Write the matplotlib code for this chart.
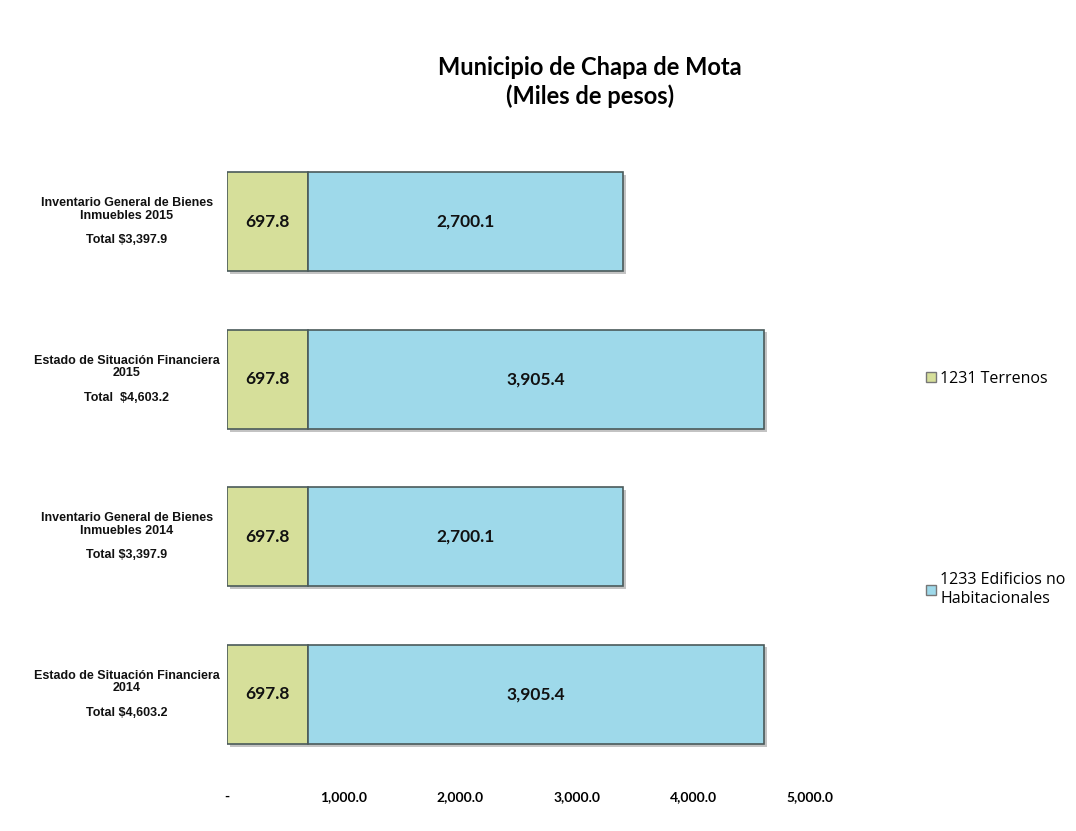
import matplotlib
matplotlib.use("Agg")
import matplotlib.pyplot as plt
import matplotlib.patheffects as pe
import matplotlib.transforms as mtransforms
from matplotlib.patches import Patch

# ---- data ----
categories = [
    "Estado de Situación Financiera\n2014\n\nTotal $4,603.2",
    "Inventario General de Bienes\nInmuebles 2014\n\nTotal $3,397.9",
    "Estado de Situación Financiera\n2015\n\nTotal  $4,603.2",
    "Inventario General de Bienes\nInmuebles 2015\n\nTotal $3,397.9",
]
terrenos = [697.8, 697.8, 697.8, 697.8]
edificios = [3905.4, 2700.1, 3905.4, 2700.1]
series_names = ["1231 Terrenos", "1233 Edificios no\nHabitacionales"]
xticks = [0, 1000, 2000, 3000, 4000, 5000]
xtick_labels = ["-", "1,000.0", "2,000.0", "3,000.0", "4,000.0", "5,000.0"]
title = "Municipio de Chapa de Mota\n(Miles de pesos)"

col_ter = "#d6df9a"
col_edi = "#9ed9ea"
edge = "#4a5a5a"

W, H = 1076, 831
fig = plt.figure(figsize=(W / 100, H / 100), dpi=100)
ax = fig.add_axes([227 / W, (H - 773) / H, (845 - 227) / W, 630 / H])

ypos = list(range(len(categories)))
shadow = [pe.SimplePatchShadow(offset=(2, -2), alpha=0.35, shadow_rgbFace="#555555"), pe.Normal()]
b1 = ax.barh(ypos, terrenos, height=0.63, color=col_ter, edgecolor=edge, linewidth=1.2)
b2 = ax.barh(ypos, edificios, left=terrenos, height=0.63, color=col_edi, edgecolor=edge, linewidth=1.2)
for b in list(b1) + list(b2):
    b.set_path_effects(shadow)

lblfont = dict(family=["Lato", "DejaVu Sans"], fontweight="bold", fontsize=12.5, color="#111111")
for y, t, e in zip(ypos, terrenos, edificios):
    ax.text(t / 2, y, f"{t:,.1f}", ha="center", va="center", **lblfont)
    ax.text(t + e / 2, y, f"{e:,.1f}", ha="center", va="center", **lblfont)

ax.set_xlim(0, 5300)
ax.set_ylim(-0.5, 3.5)
ax.set_xticks(xticks)
ax.set_xticklabels(xtick_labels, family=["Lato", "DejaVu Sans"], fontweight="bold", fontsize=10)
ax.tick_params(axis="x", length=0, pad=13)
ax.set_yticks([])
for s in ax.spines.values():
    s.set_visible(False)

trans = mtransforms.blended_transform_factory(fig.transFigure, ax.transData)
for y, c in zip(ypos, categories):
    ax.text(127 / W, y, c, transform=trans, ha="center", va="center",
            family=["Liberation Sans", "DejaVu Sans"], fontweight="bold",
            fontsize=9, linespacing=1.05, color="#111111")

fig.text(590 / W, 1 - 82 / H, title, ha="center", va="center",
         family=["Lato", "DejaVu Sans"], fontweight="bold", fontsize=17, linespacing=1.25)

handles = [Patch(facecolor=col_ter, edgecolor="#777777"), Patch(facecolor=col_edi, edgecolor="#777777")]
fig.legend(handles, series_names, loc="upper left", bbox_to_anchor=(926 / W, 1 - 371 / H),
           frameon=False, prop=dict(family=["Open Sans", "DejaVu Sans"], size=11.5),
           handlelength=0.6, handleheight=0.6, handletextpad=0.3, labelspacing=11.6,
           borderpad=0, borderaxespad=0)

fig.savefig("out.png", dpi=100, facecolor="white")
